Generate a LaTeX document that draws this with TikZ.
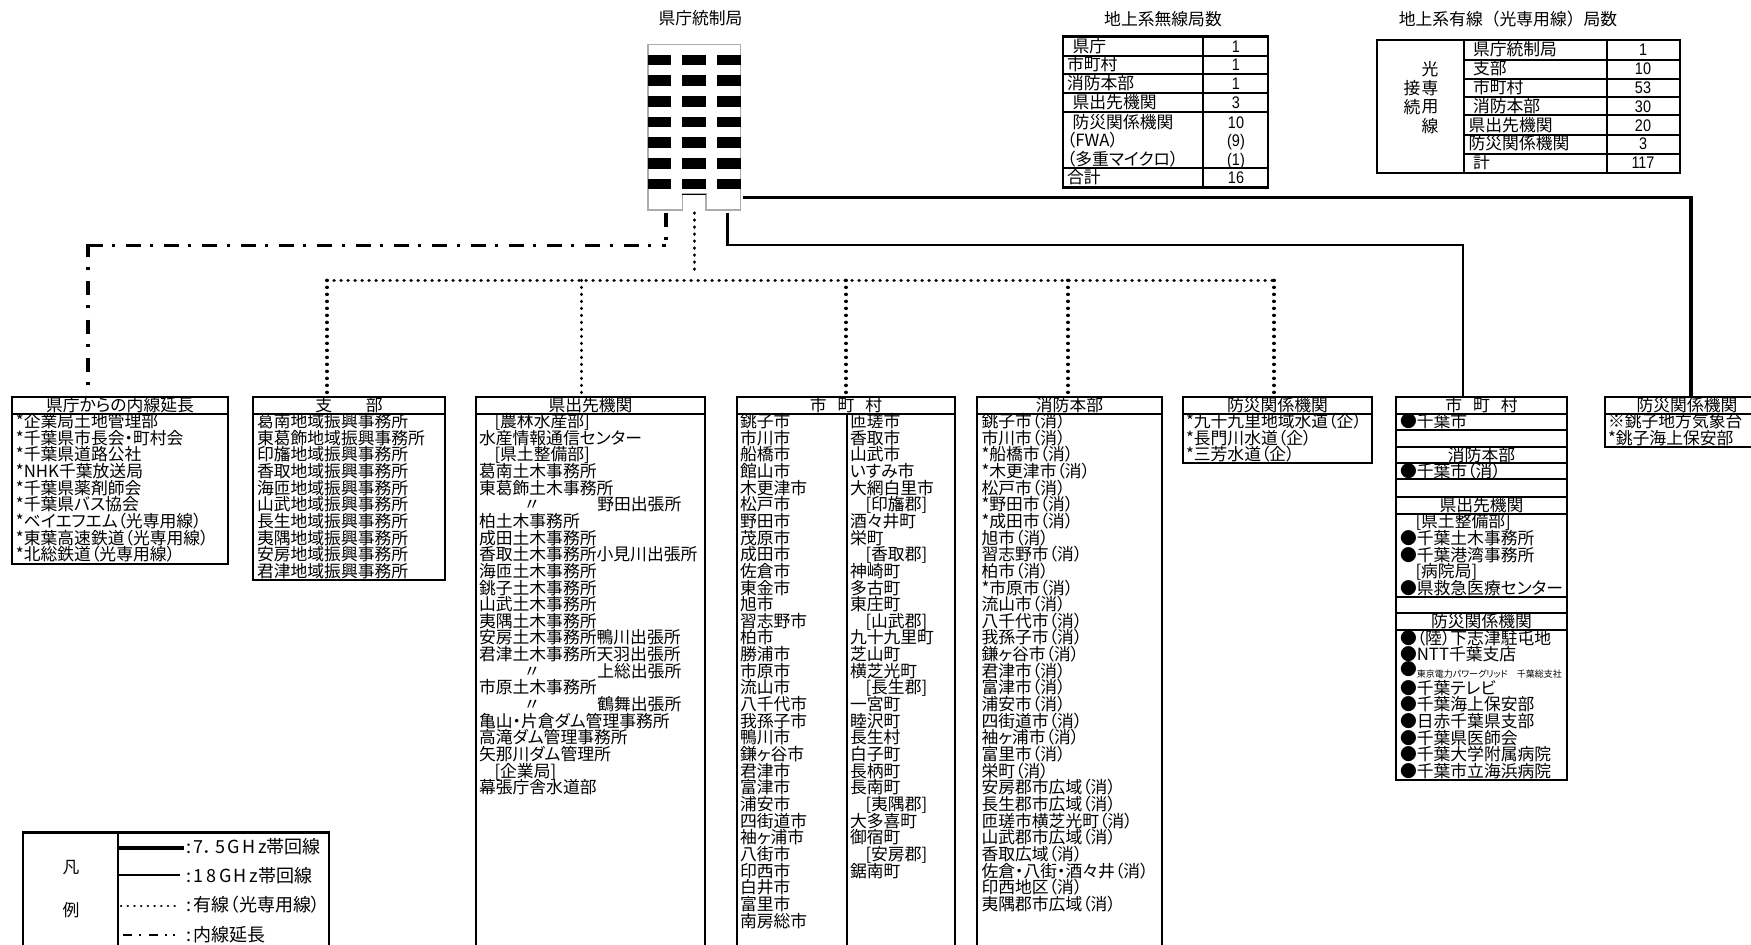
\documentclass[tikz,border=0pt]{standalone}
\usetikzlibrary{calc}
\usepackage{fontspec}
\setmainfont{Noto Sans CJK JP}[RawFeature={+palt}]
\newfontfamily\latnum{Liberation Sans}
\newfontfamily\plainjp{Noto Sans CJK JP}
\newfontfamily\spacedjp{Noto Sans CJK JP}[LetterSpace=14]
\setlength{\normallineskiplimit}{-100pt}
\setlength{\lineskiplimit}{-100pt}
\setlength{\normallineskip}{0pt}
\setlength{\lineskip}{0pt}
\newcommand\ind{\hspace*{15.5pt}}
\newcommand\astk{*}
\newcommand\ditto[1]{\hspace*{44.5pt}\makebox[16.8pt]{〃}\hspace*{57pt}#1}
\newcommand\num[1]{\scalebox{.86}[1]{\latnum #1}}
\newcommand\txtblock[4]{\node[textblk] (#1) at (#2,#3-10.2) {\rule{0pt}{16pt}#4};}
\tikzset{
  txtfont/.style={font=\fontsize{16.8}{16.65}\selectfont},
  legendfont/.style={font=\fontsize{18}{18}\selectfont},
  textblk/.style={txtfont,anchor=north west,inner sep=0pt,outer sep=0pt,align=left},
  boxbody/.style={draw=black,line width=2.2pt,fill=none,inner sep=0pt,outer sep=0pt,anchor=north west},
  headbox/.style={boxbody,txtfont,minimum height=17,text height=14.4,text depth=1.6},
  tablebox/.style={draw=black,line width=2.6pt,inner sep=0pt,outer sep=0pt,anchor=north west},
  tablerule/.style={draw=black,line width=2pt},
  label/.style={txtfont,inner sep=0pt,outer sep=0pt,anchor=base west},
  legendlabel/.style={legendfont,inner sep=0pt,outer sep=0pt,anchor=base west},
  numlabel/.style={txtfont,inner sep=0pt,outer sep=0pt,anchor=base},
  titlelabel/.style={txtfont,inner sep=0pt,outer sep=0pt},
  bandA/.style={draw=black,line width=3.4pt},
  bandB/.style={draw=black,line width=2.7pt},
  wiredline/.style={draw=black,line width=3.3pt,line cap=round,dash pattern=on 0.2pt off 6.8pt},
  extensionline/.style={draw=black,line width=3.3pt},
}
\begin{document}
\begin{tikzpicture}[x=1pt,y=-1pt]
\useasboundingbox (0,0) rectangle (1751,945);
\clip (0,0) rectangle (1751,945);
\fill[white] (0,0) rectangle (1751,945);

% ---------- titles
\node[titlelabel] (t0) at (700.5,18) {県庁統制局};
\node[titlelabel] (t1) at (1163,19) {地上系無線局数};
\node[titlelabel] (t2) at (1508,19) {\plainjp 地上系有線（光専用線）局数};

% ---------- building
\node[inner sep=0pt,outer sep=0pt,minimum width=92.8,minimum height=165.5] (bldg) at (694.1,127.2) {};
\draw[gray!65,line width=1.6pt] (647.7,44.5) -- (740.5,44.5) -- (740.5,210) -- (706,210) -- (706,194) -- (682.4,194) -- (682.4,210) -- (647.7,210) -- cycle;
\draw[black,line width=1pt] (682.4,194) -- (706,194);
\foreach \yy in {60,80.7,101.3,122,142.7,163.3,184}
  \foreach \xa/\xb in {647.7/671,682.4/706,717/740.5}
    \fill[black] (\xa,\yy-5.4) rectangle (\xb,\yy+5.4);

% ---------- wireless table
\node[tablebox,minimum width=205,minimum height=151] (wl) at (1063,36.7) {};
\draw[tablerule] (1203,36.7) -- (1203,187.7);
\foreach \yy in {55.7,74,92.7,111.7,167.7}
  \draw[tablerule] (1063,\yy) -- (1268,\yy);
\foreach \n/\xx/\yy/\tt in {a/1072.6/46/県庁,b/1067/64.5/市町村,c/1067/83.5/消防本部,d/1072.6/102.5/県出先機関,e/1072.6/122/防災関係機関,f/1067/140/（FWA）,g/1067/159.5/（多重マイクロ）,h/1067/177.5/合計}
  \node[label] (wl\n) at (\xx,\yy+6.4) {\tt};
\foreach \n/\yy/\tt in {a/46/1,b/64.5/1,c/83.5/1,d/102.5/3,e/122/10,f/140/(9),g/159.5/(1),h/177.5/16}
  \node[numlabel] (wn\n) at (1236,\yy+6) {\num{\tt}};

% ---------- wired table
\node[tablebox,minimum width=303,minimum height=133] (wd) at (1377,40) {};
\draw[tablerule] (1464,40) -- (1464,173);
\draw[tablerule] (1607,40) -- (1607,173);
\foreach \yy in {60,78.7,97.3,115.3,135,154}
  \draw[tablerule] (1464,\yy) -- (1680,\yy);
\foreach \n/\xx/\yy/\tt in {a/1473/49.5/県庁統制局,b/1473/68.5/支部,c/1473/87.5/市町村,d/1473/106/消防本部,e/1468.6/125.5/県出先機関,f/1468.6/143.5/防災関係機関,g/1473/162.5/計}
  \node[label] (dl\n) at (\xx,\yy+6.4) {\tt};
\foreach \n/\yy/\tt in {a/49.5/1,b/68.5/10,c/87.5/53,d/106/30,e/125.5/20,f/143.5/3,g/162.5/117}
  \node[numlabel] (dn\n) at (1643,\yy+6) {\num{\tt}};
\foreach \n/\xx/\yy/\tt in {a/1430/69/光,b/1412/88/接,c/1430/88/専,d/1412/107/続,e/1430/107/用,f/1430/126/線}
  \node[titlelabel] (dv\n) at (\xx,\yy) {\tt};

% ---------- boxes, headers
\node[headbox,minimum width=216] (h1) at (12,397) {県庁からの内線延長};
\node[boxbody,minimum width=216,minimum height=150] (b1) at (h1.south west) {};
\node[headbox,minimum width=192] (h2) at (253,397) {支　　部};
\node[boxbody,minimum width=192,minimum height=166] (b2) at (h2.south west) {};
\node[headbox,minimum width=229] (h3) at (476,397) {県出先機関};
\node[boxbody,minimum width=229,minimum height=540] (b3) at (h3.south west) {};
\node[headbox,minimum width=218] (h4) at (737,397) {市\hspace{11pt}町\hspace{11pt}村};
\node[boxbody,minimum width=110,minimum height=540] (b4a) at (h4.south west) {};
\node[boxbody,minimum width=108,minimum height=540] (b4b) at (b4a.north east) {};
\node[headbox,minimum width=185] (h5) at (977,397) {消防本部};
\node[boxbody,minimum width=185,minimum height=540] (b5) at (h5.south west) {};
\node[headbox,minimum width=189] (h6) at (1183,397) {防災関係機関};
\node[boxbody,minimum width=189,minimum height=49] (b6) at (h6.south west) {};
\node[headbox,minimum width=171] (h7) at (1396,397) {市\hspace{11pt}町\hspace{11pt}村};
\node[boxbody,minimum width=171,minimum height=16] (b7a) at (h7.south west) {};
\node[boxbody,minimum width=171,minimum height=17] (b7b) at (b7a.south west) {};
\node[headbox,minimum width=171,minimum height=16] (h7c) at (b7b.south west) {消防本部};
\node[boxbody,minimum width=171,minimum height=16] (b7c) at (h7c.south west) {};
\node[boxbody,minimum width=171,minimum height=18] (b7d) at (b7c.south west) {};
\node[headbox,minimum width=171] (h7e) at (b7d.south west) {県出先機関};
\node[boxbody,minimum width=171,minimum height=83] (b7e) at (h7e.south west) {};
\node[boxbody,minimum width=171,minimum height=16] (b7f) at (b7e.south west) {};
\node[headbox,minimum width=171] (h7g) at (b7f.south west) {防災関係機関};
\node[boxbody,minimum width=171,minimum height=150] (b7g) at (h7g.south west) {};
\node[headbox,minimum width=164] (h8) at (1605,397) {防災関係機関};
\node[boxbody,minimum width=164,minimum height=33] (b8) at (h8.south west) {};

% ---------- box texts
\txtblock{x1}{16}{421.7}{\astk 企業局土地管理部\\\astk 千葉県市長会・町村会\\\astk 千葉県道路公社\\\astk NHK千葉放送局\\\astk 千葉県薬剤師会\\\astk 千葉県バス協会\\\astk ベイエフエム（光専用線）\\\astk 東葉高速鉄道（光専用線）\\\astk 北総鉄道（光専用線）}
\txtblock{x2}{257}{421.7}{葛南地域振興事務所\\東葛飾地域振興事務所\\印旛地域振興事務所\\香取地域振興事務所\\海匝地域振興事務所\\山武地域振興事務所\\長生地域振興事務所\\夷隅地域振興事務所\\安房地域振興事務所\\君津地域振興事務所}
\txtblock{x3}{479}{421.7}{\ind [農林水産部]\\水産情報通信センター\\\ind [県土整備部]\\葛南土木事務所\\東葛飾土木事務所\\\ditto{野田出張所}\\柏土木事務所\\成田土木事務所\\香取土木事務所小見川出張所\\海匝土木事務所\\銚子土木事務所\\山武土木事務所\\夷隅土木事務所\\安房土木事務所鴨川出張所\\君津土木事務所天羽出張所\\\ditto{上総出張所}\\市原土木事務所\\\ditto{鶴舞出張所}\\亀山・片倉ダム管理事務所\\高滝ダム管理事務所\\矢那川ダム管理所\\\ind [企業局]\\幕張庁舎水道部}
\txtblock{x4a}{740}{421.7}{銚子市\\市川市\\船橋市\\館山市\\木更津市\\松戸市\\野田市\\茂原市\\成田市\\佐倉市\\東金市\\旭市\\習志野市\\柏市\\勝浦市\\市原市\\流山市\\八千代市\\我孫子市\\鴨川市\\鎌ヶ谷市\\君津市\\富津市\\浦安市\\四街道市\\袖ヶ浦市\\八街市\\印西市\\白井市\\富里市\\南房総市}
\txtblock{x4b}{850}{421.7}{匝瑳市\\香取市\\山武市\\いすみ市\\大網白里市\\\ind [印旛郡]\\酒々井町\\栄町\\\ind [香取郡]\\神崎町\\多古町\\東庄町\\\ind [山武郡]\\九十九里町\\芝山町\\横芝光町\\\ind [長生郡]\\一宮町\\睦沢町\\長生村\\白子町\\長柄町\\長南町\\\ind [夷隅郡]\\大多喜町\\御宿町\\\ind [安房郡]\\鋸南町}
\txtblock{x5}{981.5}{421.7}{銚子市（消）\\市川市（消）\\\astk 船橋市（消）\\\astk 木更津市（消）\\松戸市（消）\\\astk 野田市（消）\\\astk 成田市（消）\\旭市（消）\\習志野市（消）\\柏市（消）\\\astk 市原市（消）\\流山市（消）\\八千代市（消）\\我孫子市（消）\\鎌ヶ谷市（消）\\君津市（消）\\富津市（消）\\浦安市（消）\\四街道市（消）\\袖ヶ浦市（消）\\富里市（消）\\栄町（消）\\安房郡市広域（消）\\長生郡市広域（消）\\匝瑳市横芝光町（消）\\山武郡市広域（消）\\香取広域（消）\\佐倉・八街・酒々井（消）\\印西地区（消）\\夷隅郡市広域（消）}
\txtblock{x6}{1186}{421.7}{\astk 九十九里地域水道（企）\\\astk 長門川水道（企）\\\astk 三芳水道（企）}
\txtblock{x7a}{1400}{421.4}{●千葉市}
\txtblock{x7c}{1400}{471.4}{●千葉市（消）}
\txtblock{x7e}{1400}{522}{\ind [県土整備部]\\●千葉土木事務所\\●千葉港湾事務所\\\ind [病院局]\\●県救急医療センター}
\txtblock{x7g}{1400}{638.5}{●（陸）下志津駐屯地\\●NTT千葉支店\\\raisebox{2pt}{●}{\fontsize{9}{9}\selectfont 東京電力パワーグリッド　千葉総支社}\\●千葉テレビ\\●千葉海上保安部\\●日赤千葉県支部\\●千葉県医師会\\●千葉大学附属病院\\●千葉市立海浜病院}
\txtblock{x8}{1608}{421.7}{※銚子地方気象台\\\astk 銚子海上保安部}

% ---------- legend
\node[boxbody,minimum width=306,minimum height=125] (lg) at (23,832.5) {};
\draw[black,line width=2.2pt] (118,832.5) -- (118,950);
\node[titlelabel] (lgA) at (71,868) {凡};
\node[titlelabel] (lgB) at (71,910) {例};
\coordinate (l1a) at (118,848); \coordinate (l1b) at (184,848);
\coordinate (l2a) at (118,875); \coordinate (l2b) at (180,875);
\coordinate (l3a) at (121,906); \coordinate (l3b) at (178,906);
\coordinate (l4a) at (123,935); \coordinate (l4b) at (178,935);
\draw[black,line width=3.4pt] (l1a) -- (l1b);
\draw[black,line width=2.7pt] (l2a) -- (l2b);
\draw[black,line width=2.6pt,line cap=round,dash pattern=on 0.2pt off 6.5pt] (l3a) -- (l3b);
\draw[black,line width=2pt,dash pattern=on 9pt off 7pt on 2pt off 8pt on 9pt off 7pt on 2pt off 6pt on 2pt off 60pt] (l4a) -- (l4b);
\node[legendlabel] (lt1) at (186,847+6.6) {:\hspace{3pt}{\spacedjp 7}．\hspace{2pt}{\spacedjp 5GHz}帯回線};
\node[legendlabel] (lt2) at (186,876+6.6) {:\hspace{3pt}{\spacedjp 18GHz}帯回線};
\node[legendlabel] (lt3) at (186,905+6.6) {:\hspace{3pt}有線（光専用線）};
\node[legendlabel] (lt4) at (186,934.5+6.6) {:\hspace{3pt}内線延長};

% ---------- connector coordinates
\coordinate (sA) at (743,197.3);
\coordinate (cA) at (1691,197.3);
\coordinate (sB) at (727.4,213);
\coordinate (cB1) at (727.4,245);
\coordinate (cB2) at (1463,245);
\coordinate (sC) at (666,213);
\coordinate (cC0) at (666,241);
\coordinate (cC1) at (666,245.7);
\coordinate (cC2) at (88,245.7);
\coordinate (eC) at (88,387);
\coordinate (sD) at (694.3,213);
\coordinate (cD0) at (694.3,270);
\coordinate (hL) at (327,280.3);
\coordinate (hR) at (1274,280.3);
\coordinate (dD3) at (581.7,280.3);
\coordinate (dD4) at (846,280.3);
\coordinate (dD5) at (1068,280.3);

% ---------- connectors
\draw[bandA] (sA) -- (cA) -- (cA |- h8.north);
\draw[bandB] (sB) -- (cB1) -- (cB2) -- (cB2 |- h7.north);
\draw[extensionline,dash pattern=on 14pt off 10pt on 3pt off 60pt] (sC) -- (cC0);
\draw[extensionline,dash pattern=on 15pt off 11pt on 3pt off 9.3pt,dash phase=11pt] (cC1) -- (cC2);
\draw[extensionline,dash pattern=on 14pt off 10pt on 3pt off 11.3pt,dash phase=1pt] ([yshift=1.7pt]cC2) -- (eC);
\draw[wiredline] (sD) -- (cD0);
\draw[wiredline] (hL) -- (hR);
\draw[wiredline] (hL) -- ($(hL |- h2.north)+(0,-4)$);
\draw[wiredline] (dD3) -- ($(dD3 |- h3.north)+(0,-4)$);
\draw[wiredline] (dD4) -- ($(dD4 |- h4.north)+(0,-4)$);
\draw[wiredline] (dD5) -- ($(dD5 |- h5.north)+(0,-4)$);
\draw[wiredline] (hR) -- ($(hR |- h6.north)+(0,-4)$);
\end{tikzpicture}
\end{document}
